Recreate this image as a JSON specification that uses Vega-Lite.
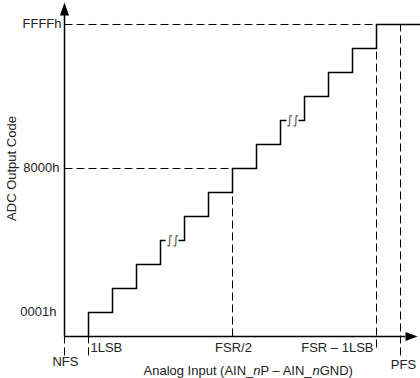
{
  "$schema": "https://vega.github.io/schema/vega-lite/v6.json",
  "width": 420,
  "height": 378,
  "autosize": "none",
  "padding": 0,
  "config": {"view": {"stroke": null}, "text": {"font": "Liberation Sans", "fontSize": 13, "fill": "#222", "baseline": "middle"}},
  "encoding": {
    "x": {"field": "x", "type": "quantitative", "scale": {"domain": [-2.6875, 14.8125], "nice": false, "zero": false}, "axis": null},
    "y": {"field": "y", "type": "quantitative", "scale": {"domain": [-1.7292, 14.0208], "nice": false, "zero": false}, "axis": null}
  },
  "layer": [
    {
      "data": {"values": [
        {"x": 0, "y": 13, "x2": 13, "y2": 13},
        {"x": 0, "y": 7, "x2": 7, "y2": 7},
        {"x": 7, "y": 0, "x2": 7, "y2": 7},
        {"x": 13, "y": -0.46, "x2": 13, "y2": 13},
        {"x": 14, "y": -0.79, "x2": 14, "y2": 13},
        {"x": 0, "y": -0.79, "x2": 0, "y2": 0},
        {"x": 1, "y": -0.79, "x2": 1, "y2": 0}
      ]},
      "mark": {"type": "rule", "stroke": "#000", "strokeWidth": 1, "strokeDash": [8, 4]},
      "encoding": {"x2": {"field": "x2"}, "y2": {"field": "y2"}}
    },
    {
      "data": {"values": [
        {"x": 0, "y": 0, "x2": 0, "y2": 13.4},
        {"x": 0, "y": 0, "x2": 14.2, "y2": 0}
      ]},
      "mark": {"type": "rule", "stroke": "#000", "strokeWidth": 1.5},
      "encoding": {"x2": {"field": "x2"}, "y2": {"field": "y2"}}
    },
    {
      "data": {"values": [
        {"x": 0, "y": 13.646}
      ]},
      "mark": {"type": "point", "shape": "M0,-1L0.7,1L-0.7,1Z", "size": 169, "filled": true, "fill": "#000", "opacity": 1, "strokeWidth": 0}
    },
    {
      "data": {"values": [
        {"x": 14.458, "y": 0}
      ]},
      "mark": {"type": "point", "shape": "M1,0L-1,0.75L-1,-0.75Z", "size": 144, "filled": true, "fill": "#000", "opacity": 1, "strokeWidth": 0}
    },
    {
      "data": {"values": [
        {"s": "a", "i": 0, "x": 1, "y": 0},
        {"s": "a", "i": 1, "x": 1, "y": 1},
        {"s": "a", "i": 2, "x": 2, "y": 2},
        {"s": "a", "i": 3, "x": 3, "y": 3},
        {"s": "a", "i": 4, "x": 4, "y": 4},
        {"s": "a", "i": 5, "x": 4.21, "y": 4},
        {"s": "b", "i": 6, "x": 4.75, "y": 4},
        {"s": "b", "i": 7, "x": 5, "y": 5},
        {"s": "b", "i": 8, "x": 6, "y": 6},
        {"s": "b", "i": 9, "x": 7, "y": 7},
        {"s": "b", "i": 10, "x": 8, "y": 8},
        {"s": "b", "i": 11, "x": 9, "y": 9},
        {"s": "b", "i": 12, "x": 9.25, "y": 9},
        {"s": "c", "i": 13, "x": 9.75, "y": 9},
        {"s": "c", "i": 14, "x": 10, "y": 10},
        {"s": "c", "i": 15, "x": 11, "y": 11},
        {"s": "c", "i": 16, "x": 12, "y": 12},
        {"s": "c", "i": 17, "x": 13, "y": 13},
        {"s": "c", "i": 18, "x": 14.83, "y": 13}
      ]},
      "mark": {"type": "line", "interpolate": "step-after", "stroke": "#000", "strokeWidth": 1.5},
      "encoding": {"detail": {"field": "s"}, "order": {"field": "i", "type": "quantitative"}}
    },
    {
      "data": {"values": [
        {"x": 4.5, "y": 4, "text": "∫∫"},
        {"x": 9.5, "y": 9, "text": "∫∫"}
      ]},
      "mark": {"type": "text", "align": "center", "font": "DejaVu Sans", "fontStyle": "italic", "fill": "#444", "fontSize": 12},
      "encoding": {"text": {"field": "text"}}
    },
    {
      "data": {"values": [
        {"x": -0.125, "y": 13, "text": "FFFFh"},
        {"x": -0.2083, "y": 7, "text": "8000h"},
        {"x": -0.333, "y": 1, "text": "0001h"},
        {"x": 12.875, "y": -0.5, "text": "FSR – 1LSB"}
      ]},
      "mark": {"type": "text", "align": "right"},
      "encoding": {"text": {"field": "text"}}
    },
    {
      "data": {"values": [
        {"x": 0.04, "y": -1.083, "text": "NFS"},
        {"x": 7.04, "y": -0.5, "text": "FSR/2"},
        {"x": 14.125, "y": -1.167, "text": "PFS"}
      ]},
      "mark": {"type": "text", "align": "center"},
      "encoding": {"text": {"field": "text"}}
    },
    {
      "data": {"values": [
        {"x": 1.083, "y": -0.5, "text": "1LSB"},
        {"x": 3.2917, "y": -1.4167, "text": "Analog Input (AIN_"},
        {"x": 8.1667, "y": -1.4167, "text": "P – AIN_"},
        {"x": 10.633, "y": -1.4167, "text": "GND)"}
      ]},
      "mark": {"type": "text", "align": "left"},
      "encoding": {"text": {"field": "text"}}
    },
    {
      "data": {"values": [
        {"x": 7.8667, "y": -1.4167, "text": "n"},
        {"x": 10.3333, "y": -1.4167, "text": "n"}
      ]},
      "mark": {"type": "text", "align": "left", "fontStyle": "italic"},
      "encoding": {"text": {"field": "text"}}
    },
    {
      "data": {"values": [
        {"x": -2.1667, "y": 7, "text": "ADC Output Code"}
      ]},
      "mark": {"type": "text", "align": "center", "angle": 270},
      "encoding": {"text": {"field": "text"}}
    }
  ]
}
